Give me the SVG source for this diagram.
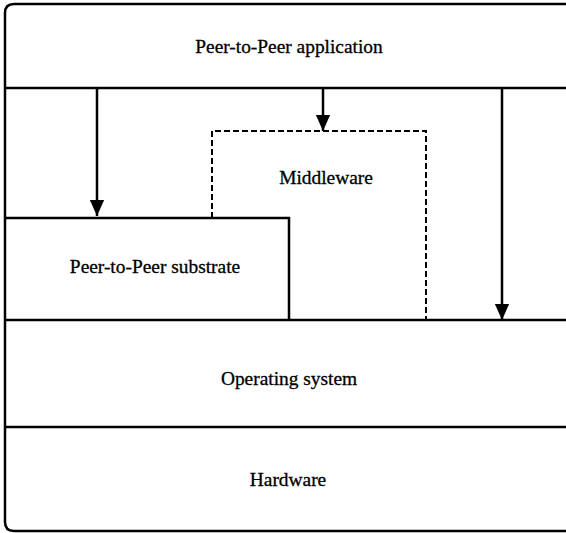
<svg xmlns="http://www.w3.org/2000/svg" width="566" height="533" viewBox="0 0 566 533">
<defs>
<style>
.ln{fill:none;stroke:#000;stroke-width:2.5}
.ds{fill:none;stroke:#000;stroke-width:2;stroke-dasharray:6,3}
.t{font-family:"Liberation Serif","Times New Roman",serif;font-size:19.4px;fill:#000;text-anchor:middle;stroke:#000;stroke-width:0.3}
</style>
<marker id="ah" markerWidth="16" markerHeight="18" viewBox="0 0 18 16" refX="18" refY="8" orient="auto" markerUnits="userSpaceOnUse">
<path d="M0,0 L18,8 L0,16 Z" fill="#000"/>
</marker>
</defs>
<rect width="566" height="533" fill="#fff"/>
<g id="frame"><path class="ln" d="M568,4 H14 Q5,4 5,13 V522 Q5,531 14,531 H568"/></g>
<g id="app"><line class="ln" x1="5" y1="88" x2="566" y2="88"/><text class="t" x="289" y="52.5">Peer-to-Peer application</text></g>
<g id="middleware"><path class="ds" d="M212,218 V131 H426 V320"/><text class="t" x="326" y="183.5">Middleware</text></g>
<g id="substrate"><path class="ln" d="M5,218 H289 V320"/><text class="t" x="155" y="272.5">Peer-to-Peer substrate</text></g>
<g id="os"><line class="ln" x1="5" y1="320" x2="566" y2="320"/><text class="t" x="289" y="385">Operating system</text></g>
<g id="hardware"><line class="ln" x1="5" y1="427" x2="566" y2="427"/><text class="t" x="288" y="485.5">Hardware</text></g>
<g id="connectors">
<line class="ln" x1="97" y1="88" x2="97" y2="216" marker-end="url(#ah)"/>
<line class="ln" x1="323" y1="88" x2="323" y2="131" marker-end="url(#ah)"/>
<line class="ln" x1="502" y1="88" x2="502" y2="320" marker-end="url(#ah)"/>
</g>
</svg>
